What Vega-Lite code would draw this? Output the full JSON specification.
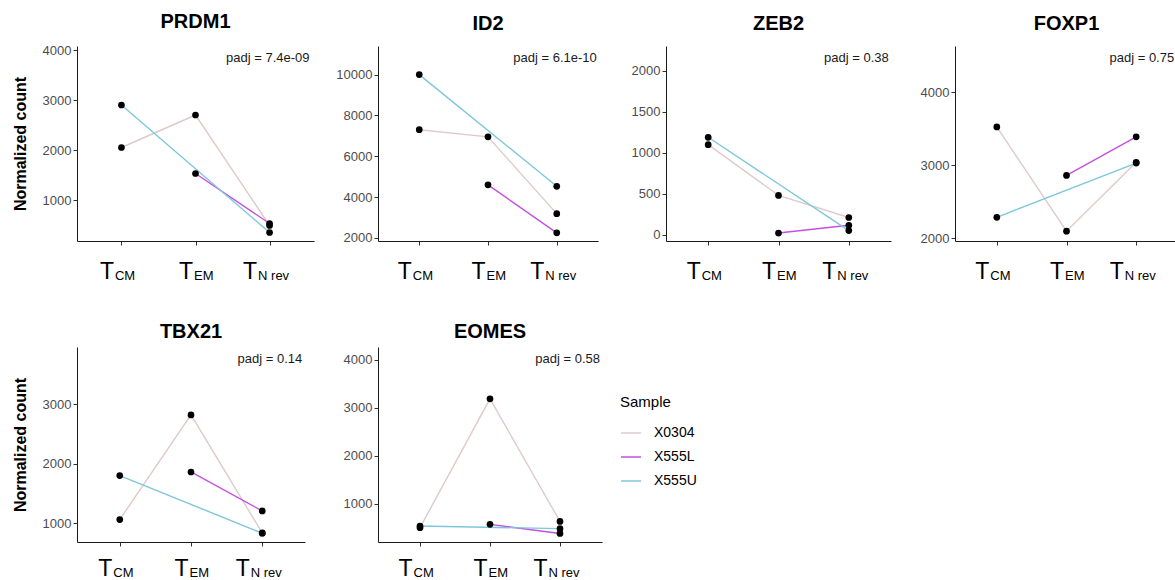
{
"$schema": "https://vega.github.io/schema/vega-lite/v6.json",
"background": "white",
"padding": {"left": 12, "top": 12, "right": 0, "bottom": 0},
"datasets": {
"expr": [
{"gene":"PRDM1","sample":"X0304","cell":"TCM","count":2050},
{"gene":"PRDM1","sample":"X0304","cell":"TEM","count":2700},
{"gene":"PRDM1","sample":"X0304","cell":"TNrev","count":490},
{"gene":"PRDM1","sample":"X555L","cell":"TEM","count":1530},
{"gene":"PRDM1","sample":"X555L","cell":"TNrev","count":530},
{"gene":"PRDM1","sample":"X555U","cell":"TCM","count":2900},
{"gene":"PRDM1","sample":"X555U","cell":"TNrev","count":350},
{"gene":"ID2","sample":"X0304","cell":"TCM","count":7300},
{"gene":"ID2","sample":"X0304","cell":"TEM","count":6950},
{"gene":"ID2","sample":"X0304","cell":"TNrev","count":3190},
{"gene":"ID2","sample":"X555L","cell":"TEM","count":4600},
{"gene":"ID2","sample":"X555L","cell":"TNrev","count":2250},
{"gene":"ID2","sample":"X555U","cell":"TCM","count":10000},
{"gene":"ID2","sample":"X555U","cell":"TNrev","count":4530},
{"gene":"ZEB2","sample":"X0304","cell":"TCM","count":1100},
{"gene":"ZEB2","sample":"X0304","cell":"TEM","count":480},
{"gene":"ZEB2","sample":"X0304","cell":"TNrev","count":210},
{"gene":"ZEB2","sample":"X555L","cell":"TEM","count":20},
{"gene":"ZEB2","sample":"X555L","cell":"TNrev","count":115},
{"gene":"ZEB2","sample":"X555U","cell":"TCM","count":1190},
{"gene":"ZEB2","sample":"X555U","cell":"TNrev","count":50},
{"gene":"FOXP1","sample":"X0304","cell":"TCM","count":3525},
{"gene":"FOXP1","sample":"X0304","cell":"TEM","count":2095},
{"gene":"FOXP1","sample":"X0304","cell":"TNrev","count":3040},
{"gene":"FOXP1","sample":"X555L","cell":"TEM","count":2860},
{"gene":"FOXP1","sample":"X555L","cell":"TNrev","count":3390},
{"gene":"FOXP1","sample":"X555U","cell":"TCM","count":2285},
{"gene":"FOXP1","sample":"X555U","cell":"TNrev","count":3030},
{"gene":"TBX21","sample":"X0304","cell":"TCM","count":1060},
{"gene":"TBX21","sample":"X0304","cell":"TEM","count":2820},
{"gene":"TBX21","sample":"X0304","cell":"TNrev","count":835},
{"gene":"TBX21","sample":"X555L","cell":"TEM","count":1860},
{"gene":"TBX21","sample":"X555L","cell":"TNrev","count":1205},
{"gene":"TBX21","sample":"X555U","cell":"TCM","count":1800},
{"gene":"TBX21","sample":"X555U","cell":"TNrev","count":830},
{"gene":"EOMES","sample":"X0304","cell":"TCM","count":500},
{"gene":"EOMES","sample":"X0304","cell":"TEM","count":3185},
{"gene":"EOMES","sample":"X0304","cell":"TNrev","count":630},
{"gene":"EOMES","sample":"X555L","cell":"TEM","count":570},
{"gene":"EOMES","sample":"X555L","cell":"TNrev","count":380},
{"gene":"EOMES","sample":"X555U","cell":"TCM","count":535},
{"gene":"EOMES","sample":"X555U","cell":"TNrev","count":480}
],
"padj": [
{"gene":"PRDM1","label":"padj = 7.4e-09"},
{"gene":"ID2","label":"padj = 6.1e-10"},
{"gene":"ZEB2","label":"padj = 0.38"},
{"gene":"FOXP1","label":"padj = 0.75"},
{"gene":"TBX21","label":"padj = 0.14"},
{"gene":"EOMES","label":"padj = 0.58"}
]
},
"config": {
"view": {"stroke": null},
"font": "Liberation Sans",
"axis": {"grid": false, "domainColor": "#1a1a1a", "tickColor": "#333333", "labelColor": "#4D4D4D", "labelFontSize": 13, "tickSize": 4, "labelPadding": 2, "titleFontSize": 16, "titleFontWeight": "bold", "titleColor": "black", "titlePadding": 14},
"axisX": {"labelAngle": 0},
"title": {"fontSize": 20, "fontWeight": "bold", "font": "Liberation Sans", "color": "black", "anchor": "middle", "frame": "group", "offset": 12}
},
"bounds": "flush",
"align": "none",
"columns": 4,
"spacing": {"row": 106, "column": 64},
"concat": [
{"width": 237, "height": 195, "title": {"text": "PRDM1"}, "resolve": {"axis": {"x": "independent"}},
"layer": [
{"data": {"name": "expr"}, "transform": [{"filter": "datum.gene == 'PRDM1'"}], "mark": {"type": "line", "strokeWidth": 1.4},
"encoding": {"x": {"field": "cell", "type": "nominal", "scale": {"type": "point", "domain": ["TCM","TEM","TNrev"], "padding": 0.6}, "axis": {"orient": "bottom", "title": null, "labelAngle": 0, "labelExpr": "'T'", "labelFontSize": 23, "labelColor": "black", "labelAlign": "right", "labelBaseline": "alphabetic", "labelPadding": 33, "labelOffset": {"condition": [{"test": "datum.value == 'TCM'", "value": -8}, {"test": "datum.value == 'TEM'", "value": -3}], "value": -13}}},
"y": {"field": "count", "type": "quantitative", "scale": {"domain": [180, 4080], "nice": false, "zero": false}, "axis": {"title": "Normalized count", "values": [1000,2000,3000,4000], "format": "d"}},
"color": {"field": "sample", "type": "nominal", "scale": {"domain": ["X0304","X555L","X555U"], "range": ["#DFCACA","#C450E0","#7EC6DC"]}, "legend": {"title": "Sample", "orient": "none", "legendX": 543, "legendY": 349, "titleFontSize": 15, "titleFontWeight": "normal", "titleColor": "black", "labelFontSize": 14, "labelColor": "black", "labelOffset": 12, "symbolType": "stroke", "symbolStrokeWidth": 1.5, "symbolSize": 400, "rowPadding": 6, "titlePadding": 12}}}},
{"data": {"name": "expr"}, "transform": [{"filter": "datum.gene == 'PRDM1'"}], "mark": {"type": "circle", "color": "black", "size": 45, "opacity": 1},
"encoding": {"x": {"field": "cell", "type": "nominal", "axis": {"orient": "bottom", "title": null, "labelAngle": 0, "domain": false, "ticks": false, "labelExpr": "datum.value == 'TCM' ? 'CM' : datum.value == 'TEM' ? 'EM' : 'N rev'", "labelFontSize": 13, "labelColor": "black", "labelAlign": "left", "labelBaseline": "alphabetic", "labelPadding": 38, "labelOffset": {"condition": [{"test": "datum.value == 'TCM'", "value": -7}, {"test": "datum.value == 'TEM'", "value": -2}], "value": -12}}},
"y": {"field": "count", "type": "quantitative"}}},
{"data": {"name": "padj"}, "transform": [{"filter": "datum.gene == 'PRDM1'"}], "mark": {"type": "text", "align": "right", "baseline": "alphabetic", "dx": 40, "dy": 16, "fontSize": 13, "color": "#1a1a1a"},
"encoding": {"x": {"datum": "TNrev", "type": "nominal", "axis": null}, "y": {"datum": 4080, "type": "quantitative"}, "text": {"field": "label"}}}
]},
{"width": 220, "height": 195, "title": {"text": "ID2"}, "resolve": {"axis": {"x": "independent"}},
"layer": [
{"data": {"name": "expr"}, "transform": [{"filter": "datum.gene == 'ID2'"}], "mark": {"type": "line", "strokeWidth": 1.4},
"encoding": {"x": {"field": "cell", "type": "nominal", "scale": {"type": "point", "domain": ["TCM","TEM","TNrev"], "padding": 0.6}, "axis": {"orient": "bottom", "title": null, "labelAngle": 0, "labelExpr": "'T'", "labelFontSize": 23, "labelColor": "black", "labelAlign": "right", "labelBaseline": "alphabetic", "labelPadding": 33, "labelOffset": {"condition": [{"test": "datum.value == 'TCM'", "value": -8}, {"test": "datum.value == 'TEM'", "value": -3}], "value": -13}}},
"y": {"field": "count", "type": "quantitative", "scale": {"domain": [1850, 11400], "nice": false, "zero": false}, "axis": {"title": null, "values": [2000,4000,6000,8000,10000], "format": "d"}},
"color": {"field": "sample", "type": "nominal"}}},
{"data": {"name": "expr"}, "transform": [{"filter": "datum.gene == 'ID2'"}], "mark": {"type": "circle", "color": "black", "size": 45, "opacity": 1},
"encoding": {"x": {"field": "cell", "type": "nominal", "axis": {"orient": "bottom", "title": null, "labelAngle": 0, "domain": false, "ticks": false, "labelExpr": "datum.value == 'TCM' ? 'CM' : datum.value == 'TEM' ? 'EM' : 'N rev'", "labelFontSize": 13, "labelColor": "black", "labelAlign": "left", "labelBaseline": "alphabetic", "labelPadding": 38, "labelOffset": {"condition": [{"test": "datum.value == 'TCM'", "value": -7}, {"test": "datum.value == 'TEM'", "value": -2}], "value": -12}}},
"y": {"field": "count", "type": "quantitative"}}},
{"data": {"name": "padj"}, "transform": [{"filter": "datum.gene == 'ID2'"}], "mark": {"type": "text", "align": "right", "baseline": "alphabetic", "dx": 40, "dy": 16, "fontSize": 13, "color": "#1a1a1a"},
"encoding": {"x": {"datum": "TNrev", "type": "nominal", "axis": null}, "y": {"datum": 11400, "type": "quantitative"}, "text": {"field": "label"}}}
]},
{"width": 225, "height": 195, "title": {"text": "ZEB2"}, "resolve": {"axis": {"x": "independent"}},
"layer": [
{"data": {"name": "expr"}, "transform": [{"filter": "datum.gene == 'ZEB2'"}], "mark": {"type": "line", "strokeWidth": 1.4},
"encoding": {"x": {"field": "cell", "type": "nominal", "scale": {"type": "point", "domain": ["TCM","TEM","TNrev"], "padding": 0.6}, "axis": {"orient": "bottom", "title": null, "labelAngle": 0, "labelExpr": "'T'", "labelFontSize": 23, "labelColor": "black", "labelAlign": "right", "labelBaseline": "alphabetic", "labelPadding": 33, "labelOffset": {"condition": [{"test": "datum.value == 'TCM'", "value": -8}, {"test": "datum.value == 'TEM'", "value": -3}], "value": -13}}},
"y": {"field": "count", "type": "quantitative", "scale": {"domain": [-77, 2305], "nice": false, "zero": false}, "axis": {"title": null, "values": [0,500,1000,1500,2000], "format": "d"}},
"color": {"field": "sample", "type": "nominal"}}},
{"data": {"name": "expr"}, "transform": [{"filter": "datum.gene == 'ZEB2'"}], "mark": {"type": "circle", "color": "black", "size": 45, "opacity": 1},
"encoding": {"x": {"field": "cell", "type": "nominal", "axis": {"orient": "bottom", "title": null, "labelAngle": 0, "domain": false, "ticks": false, "labelExpr": "datum.value == 'TCM' ? 'CM' : datum.value == 'TEM' ? 'EM' : 'N rev'", "labelFontSize": 13, "labelColor": "black", "labelAlign": "left", "labelBaseline": "alphabetic", "labelPadding": 38, "labelOffset": {"condition": [{"test": "datum.value == 'TCM'", "value": -7}, {"test": "datum.value == 'TEM'", "value": -2}], "value": -12}}},
"y": {"field": "count", "type": "quantitative"}}},
{"data": {"name": "padj"}, "transform": [{"filter": "datum.gene == 'ZEB2'"}], "mark": {"type": "text", "align": "right", "baseline": "alphabetic", "dx": 40, "dy": 16, "fontSize": 13, "color": "#1a1a1a"},
"encoding": {"x": {"datum": "TNrev", "type": "nominal", "axis": null}, "y": {"datum": 2305, "type": "quantitative"}, "text": {"field": "label"}}}
]},
{"width": 223, "height": 195, "title": {"text": "FOXP1"}, "resolve": {"axis": {"x": "independent"}},
"layer": [
{"data": {"name": "expr"}, "transform": [{"filter": "datum.gene == 'FOXP1'"}], "mark": {"type": "line", "strokeWidth": 1.4},
"encoding": {"x": {"field": "cell", "type": "nominal", "scale": {"type": "point", "domain": ["TCM","TEM","TNrev"], "padding": 0.6}, "axis": {"orient": "bottom", "title": null, "labelAngle": 0, "labelExpr": "'T'", "labelFontSize": 23, "labelColor": "black", "labelAlign": "right", "labelBaseline": "alphabetic", "labelPadding": 33, "labelOffset": {"condition": [{"test": "datum.value == 'TCM'", "value": -8}, {"test": "datum.value == 'TEM'", "value": -3}], "value": -13}}},
"y": {"field": "count", "type": "quantitative", "scale": {"domain": [1960, 4636], "nice": false, "zero": false}, "axis": {"title": null, "values": [2000,2500,3000,3500,4000,4500], "format": "d"}},
"color": {"field": "sample", "type": "nominal"}}},
{"data": {"name": "expr"}, "transform": [{"filter": "datum.gene == 'FOXP1'"}], "mark": {"type": "circle", "color": "black", "size": 45, "opacity": 1},
"encoding": {"x": {"field": "cell", "type": "nominal", "axis": {"orient": "bottom", "title": null, "labelAngle": 0, "domain": false, "ticks": false, "labelExpr": "datum.value == 'TCM' ? 'CM' : datum.value == 'TEM' ? 'EM' : 'N rev'", "labelFontSize": 13, "labelColor": "black", "labelAlign": "left", "labelBaseline": "alphabetic", "labelPadding": 38, "labelOffset": {"condition": [{"test": "datum.value == 'TCM'", "value": -7}, {"test": "datum.value == 'TEM'", "value": -2}], "value": -12}}},
"y": {"field": "count", "type": "quantitative"}}},
{"data": {"name": "padj"}, "transform": [{"filter": "datum.gene == 'FOXP1'"}], "mark": {"type": "text", "align": "right", "baseline": "alphabetic", "dx": 38, "dy": 16, "fontSize": 13, "color": "#1a1a1a"},
"encoding": {"x": {"datum": "TNrev", "type": "nominal", "axis": null}, "y": {"datum": 4636, "type": "quantitative"}, "text": {"field": "label"}}}
]},
{"width": 228, "height": 195, "title": {"text": "TBX21", "offset": 5}, "resolve": {"axis": {"x": "independent"}},
"layer": [
{"data": {"name": "expr"}, "transform": [{"filter": "datum.gene == 'TBX21'"}], "mark": {"type": "line", "strokeWidth": 1.4},
"encoding": {"x": {"field": "cell", "type": "nominal", "scale": {"type": "point", "domain": ["TCM","TEM","TNrev"], "padding": 0.6}, "axis": {"orient": "bottom", "title": null, "labelAngle": 0, "labelExpr": "'T'", "labelFontSize": 23, "labelColor": "black", "labelAlign": "right", "labelBaseline": "alphabetic", "labelPadding": 29, "labelOffset": {"condition": [{"test": "datum.value == 'TCM'", "value": -8}, {"test": "datum.value == 'TEM'", "value": -3}], "value": -13}}},
"y": {"field": "count", "type": "quantitative", "scale": {"domain": [683, 3961], "nice": false, "zero": false}, "axis": {"title": "Normalized count", "values": [1000,2000,3000], "format": "d"}},
"color": {"field": "sample", "type": "nominal"}}},
{"data": {"name": "expr"}, "transform": [{"filter": "datum.gene == 'TBX21'"}], "mark": {"type": "circle", "color": "black", "size": 45, "opacity": 1},
"encoding": {"x": {"field": "cell", "type": "nominal", "axis": {"orient": "bottom", "title": null, "labelAngle": 0, "domain": false, "ticks": false, "labelExpr": "datum.value == 'TCM' ? 'CM' : datum.value == 'TEM' ? 'EM' : 'N rev'", "labelFontSize": 13, "labelColor": "black", "labelAlign": "left", "labelBaseline": "alphabetic", "labelPadding": 34, "labelOffset": {"condition": [{"test": "datum.value == 'TCM'", "value": -7}, {"test": "datum.value == 'TEM'", "value": -2}], "value": -12}}},
"y": {"field": "count", "type": "quantitative"}}},
{"data": {"name": "padj"}, "transform": [{"filter": "datum.gene == 'TBX21'"}], "mark": {"type": "text", "align": "right", "baseline": "alphabetic", "dx": 40, "dy": 16, "fontSize": 13, "color": "#1a1a1a"},
"encoding": {"x": {"datum": "TNrev", "type": "nominal", "axis": null}, "y": {"datum": 3961, "type": "quantitative"}, "text": {"field": "label"}}}
]},
{"width": 224, "height": 195, "title": {"text": "EOMES", "offset": 5}, "resolve": {"axis": {"x": "independent"}},
"layer": [
{"data": {"name": "expr"}, "transform": [{"filter": "datum.gene == 'EOMES'"}], "mark": {"type": "line", "strokeWidth": 1.4},
"encoding": {"x": {"field": "cell", "type": "nominal", "scale": {"type": "point", "domain": ["TCM","TEM","TNrev"], "padding": 0.6}, "axis": {"orient": "bottom", "title": null, "labelAngle": 0, "labelExpr": "'T'", "labelFontSize": 23, "labelColor": "black", "labelAlign": "right", "labelBaseline": "alphabetic", "labelPadding": 29, "labelOffset": {"condition": [{"test": "datum.value == 'TCM'", "value": -8}, {"test": "datum.value == 'TEM'", "value": -3}], "value": -13}}},
"y": {"field": "count", "type": "quantitative", "scale": {"domain": [202, 4264], "nice": false, "zero": false}, "axis": {"title": null, "values": [1000,2000,3000,4000], "format": "d"}},
"color": {"field": "sample", "type": "nominal"}}},
{"data": {"name": "expr"}, "transform": [{"filter": "datum.gene == 'EOMES'"}], "mark": {"type": "circle", "color": "black", "size": 45, "opacity": 1},
"encoding": {"x": {"field": "cell", "type": "nominal", "axis": {"orient": "bottom", "title": null, "labelAngle": 0, "domain": false, "ticks": false, "labelExpr": "datum.value == 'TCM' ? 'CM' : datum.value == 'TEM' ? 'EM' : 'N rev'", "labelFontSize": 13, "labelColor": "black", "labelAlign": "left", "labelBaseline": "alphabetic", "labelPadding": 34, "labelOffset": {"condition": [{"test": "datum.value == 'TCM'", "value": -7}, {"test": "datum.value == 'TEM'", "value": -2}], "value": -12}}},
"y": {"field": "count", "type": "quantitative"}}},
{"data": {"name": "padj"}, "transform": [{"filter": "datum.gene == 'EOMES'"}], "mark": {"type": "text", "align": "right", "baseline": "alphabetic", "dx": 40, "dy": 16, "fontSize": 13, "color": "#1a1a1a"},
"encoding": {"x": {"datum": "TNrev", "type": "nominal", "axis": null}, "y": {"datum": 4264, "type": "quantitative"}, "text": {"field": "label"}}}
]}
]
}
